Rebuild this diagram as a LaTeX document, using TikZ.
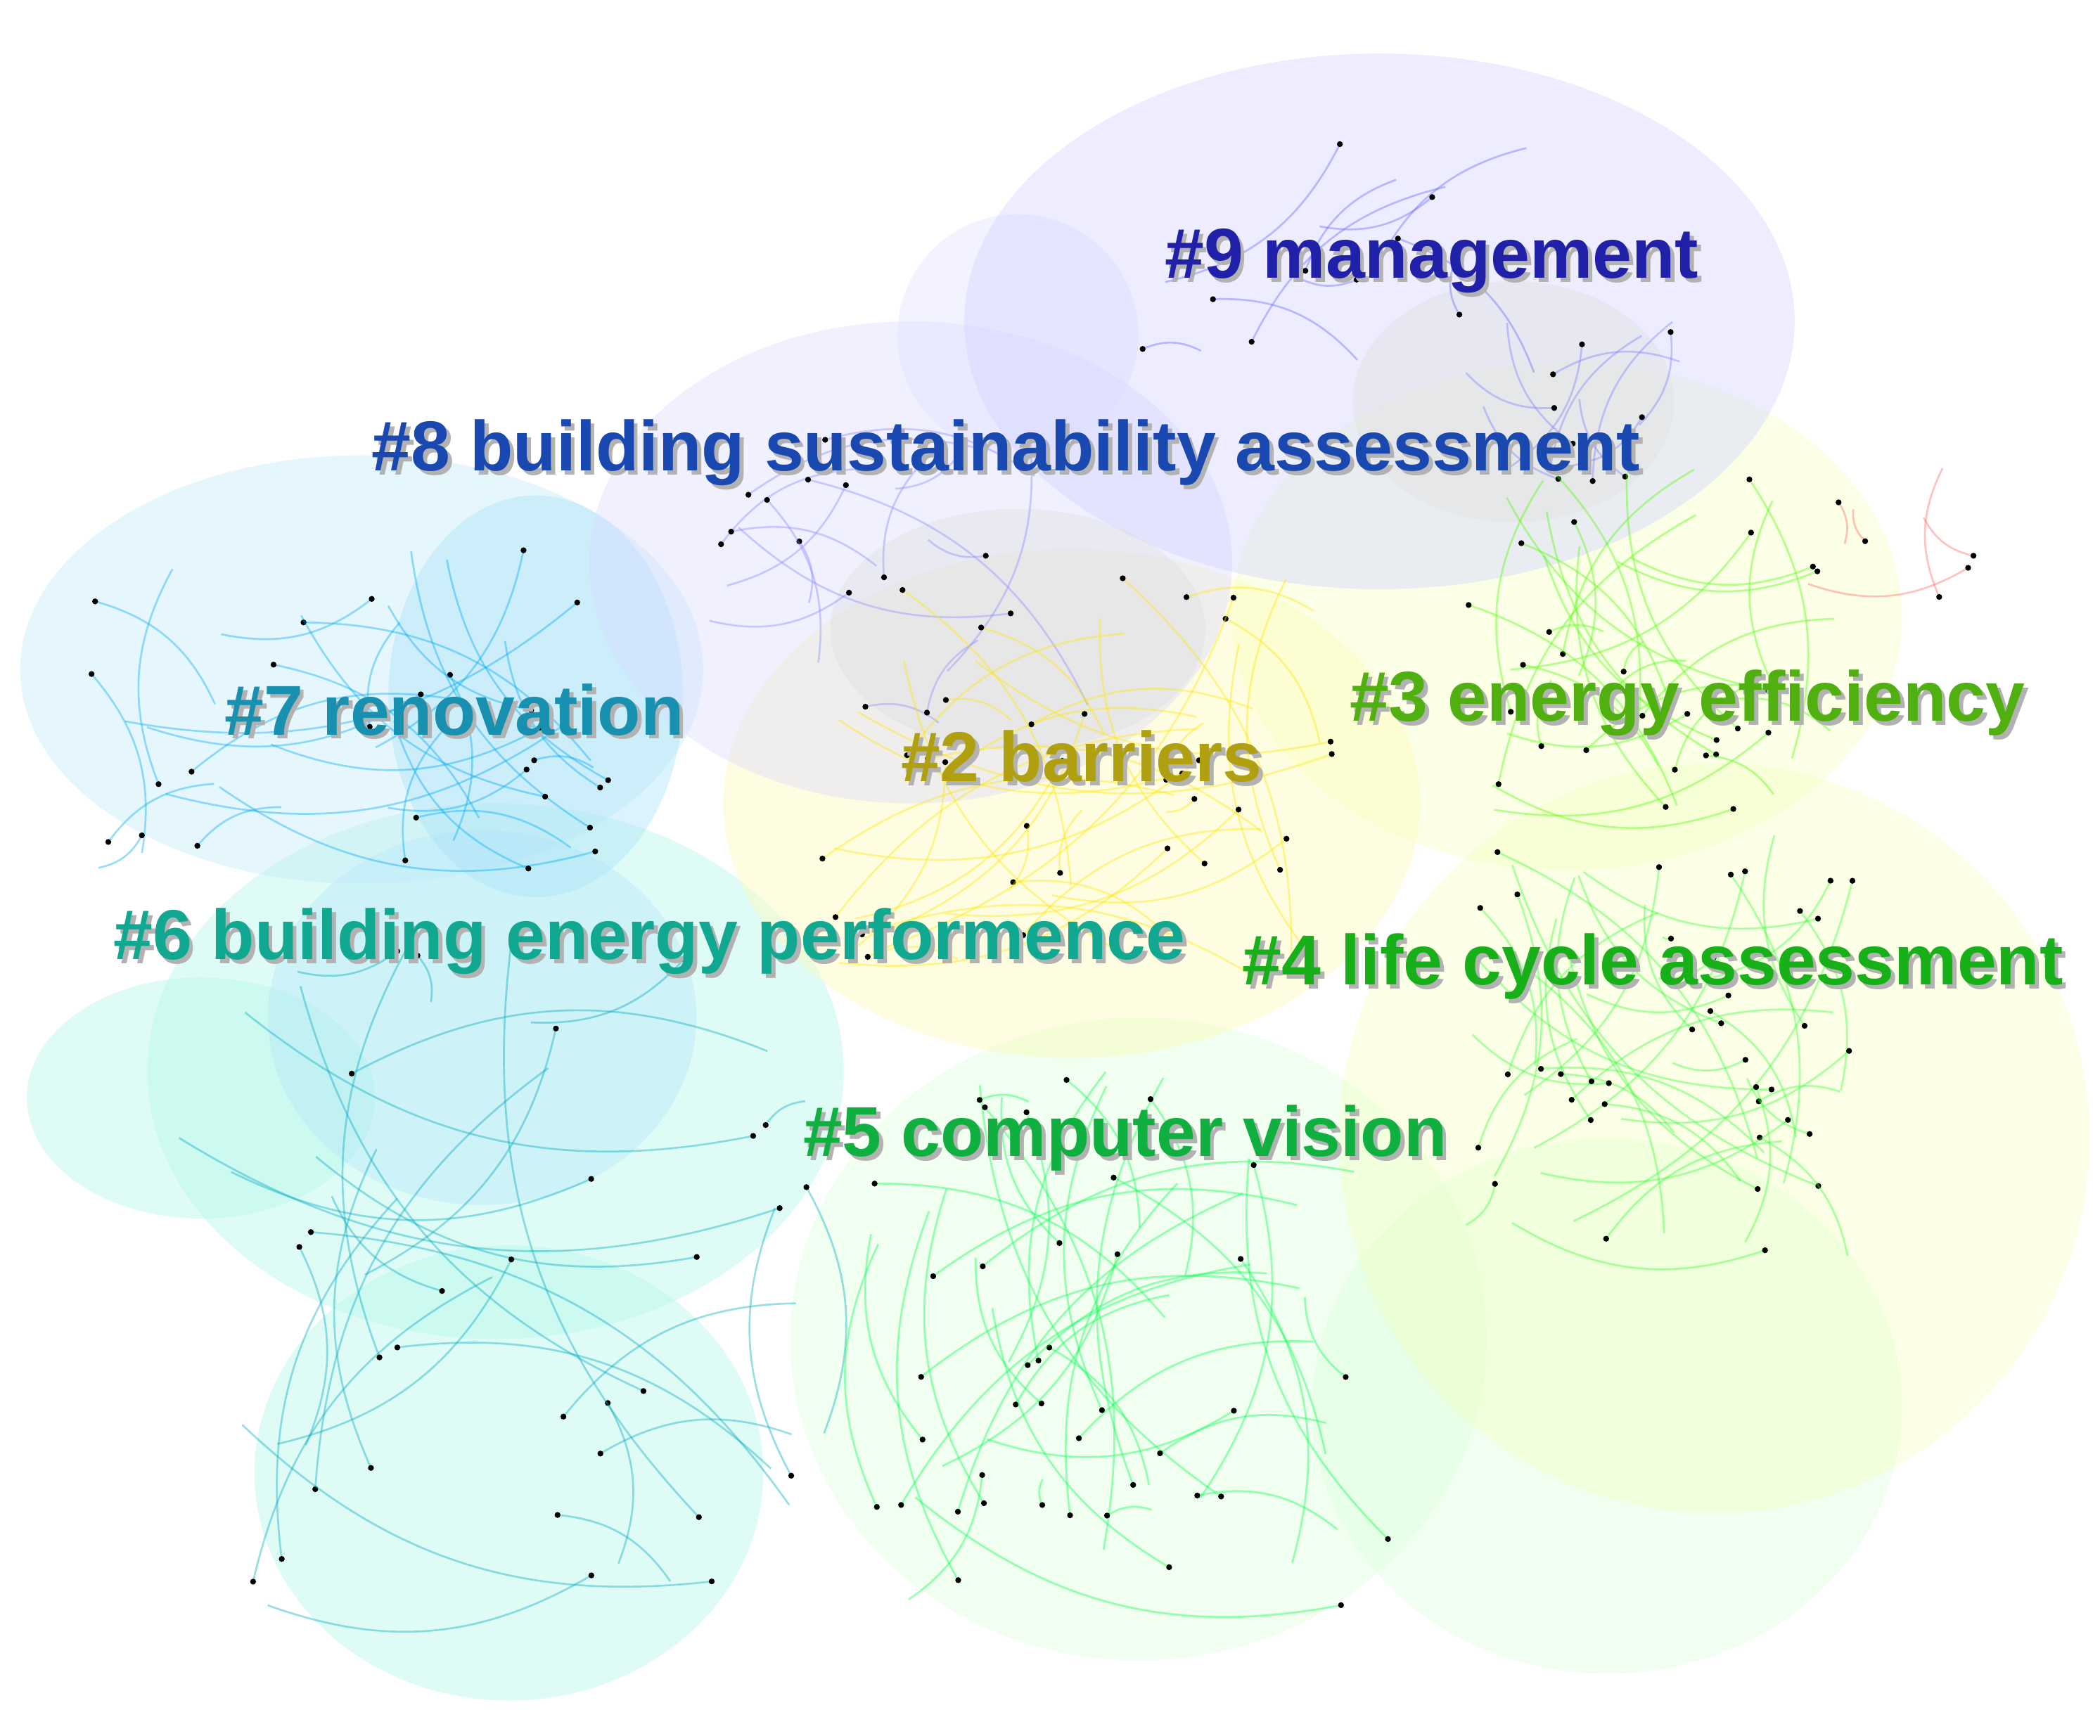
\documentclass[tikz,border=0pt]{standalone}
\usepackage{fontspec}
\setmainfont{Liberation Sans}
\begin{document}
\begin{tikzpicture}[x=0.01cm,y=-0.01cm,
  blob/.style={opacity=0.4},
  lab/.style={anchor=west,font=\fontsize{15}{17}\selectfont\bfseries,inner sep=2pt},
  shadowlab/.style={lab,text=black!30}]
\useasboundingbox (0,0) rectangle (1568,1296);
\definecolor{c9}{HTML}{2020A8}\definecolor{c8}{HTML}{1848B0}
\definecolor{c7}{HTML}{1890B0}\definecolor{c6}{HTML}{10A890}
\definecolor{c5}{HTML}{10B040}\definecolor{c4}{HTML}{18B018}
\definecolor{c3}{HTML}{50B010}\definecolor{c2}{HTML}{B0A010}
\definecolor{aqua}{HTML}{B0F5E8}
% blobs
\fill[blob,color=aqua] (370,800) ellipse (260 and 200);
\fill[blob,color=aqua] (380,1100) ellipse (190 and 170);
\fill[blob,color=aqua] (150,820) ellipse (130 and 90);
\fill[blob,color=cyan!30] (360,760) ellipse (160 and 140);
\fill[blob,color=green!15] (850,1000) ellipse (260 and 240);
\fill[blob,color=green!15] (1200,1050) ellipse (220 and 200);
\fill[blob,color=green!20!yellow!25] (1280,850) ellipse (280 and 280);
\fill[blob,color=green!20!yellow!25] (1170,460) ellipse (250 and 190);
\fill[blob,color=yellow!30] (800,600) ellipse (260 and 190);
\fill[blob,color=cyan!25] (270,500) ellipse (255 and 160);
\fill[blob,color=cyan!35] (400,520) ellipse (110 and 150);
\fill[blob,color=blue!15] (680,420) ellipse (240 and 180);
\fill[blob,color=blue!12] (760,250) ellipse (90 and 90);
\fill[blob,color=blue!18] (1030,240) ellipse (310 and 200);
\fill[blob,color=gray!25] (760,470) ellipse (140 and 90);
\fill[blob,color=gray!25] (1130,300) ellipse (120 and 90);
% dots and edges
\pgfmathsetseed{7}
\newcommand\clusterdots[6]{%
 \foreach \i in {1,...,#5}{%
  \pgfmathsetmacro\ax{#1+#3*rand}\pgfmathsetmacro\ay{#2+#4*rand}%
  \pgfmathsetmacro\bx{#1+#3*rand}\pgfmathsetmacro\by{#2+#4*rand}%
  \draw[#6,opacity=0.4,line width=0.4pt] (\ax,\ay) to[bend left=25] (\bx,\by);
  \fill (\ax,\ay) circle (2.2);}}
\clusterdots{1000}{180}{200}{100}{10}{blue!60}
\clusterdots{1180}{300}{90}{60}{10}{blue!50}
\clusterdots{680}{430}{160}{110}{16}{blue!45}
\clusterdots{260}{530}{200}{120}{28}{cyan}
\clusterdots{800}{580}{200}{150}{35}{yellow!90!orange}
\clusterdots{1230}{480}{140}{140}{30}{green!70!yellow}
\clusterdots{1240}{780}{150}{160}{40}{green!80}
\clusterdots{380}{950}{250}{250}{30}{cyan!70!green}
\clusterdots{850}{1000}{200}{200}{40}{green!70!cyan}
\clusterdots{1420}{390}{70}{60}{5}{red!60}
% labels
\foreach \t/\x/\y/\c in {{\#9 management}/862/195/c9,{\#8 building sustainability assessment}/270/338/c8,{\#7 renovation}/160/530/c7,{\#2 barriers}/665/565/c2,{\#3 energy efficiency}/1000/525/c3,{\#6 building energy performence}/77/703/c6,{\#4 life cycle assessment}/920/722/c4,{\#5 computer vision}/592/850/c5}{
 \node[shadowlab] at (\x+3,\y+3) {\t};
 \node[lab,text=\c] (l\x) at (\x,\y) {\t};}
\end{tikzpicture}
\end{document}
